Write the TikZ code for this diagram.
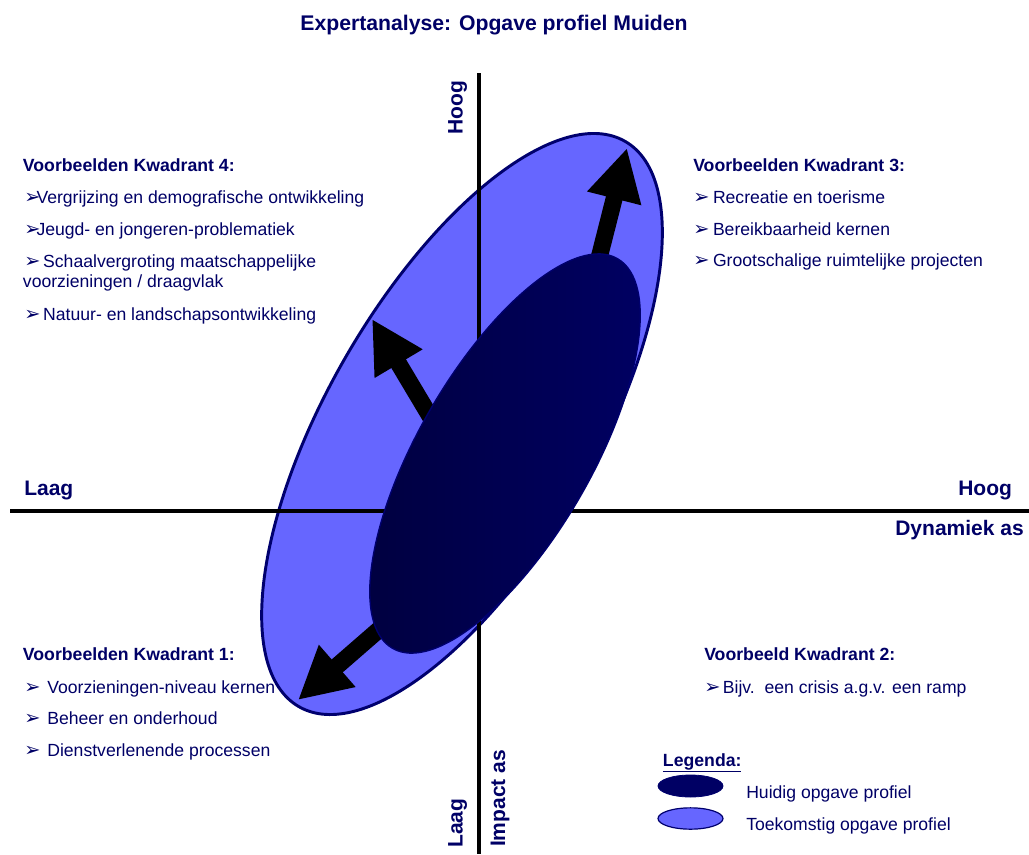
\documentclass[tikz,border=0pt]{standalone}
\usepackage{fontspec}
\setmainfont{Liberation Sans}
\newfontfamily\dejavu{DejaVu Sans}
\usetikzlibrary{shapes.geometric,arrows.meta}
\definecolor{txtblue}{RGB}{0,0,102}
\definecolor{lightfill}{RGB}{102,102,255}
\definecolor{edgeblue}{RGB}{0,0,110}
\definecolor{darkA}{RGB}{0,0,100}
\definecolor{darkB}{RGB}{0,0,62}
\newcommand{\bl}{{\dejavu\fontsize{14.5}{14.5}\selectfont ➢}}
\newcommand{\bb}[1]{\makebox[#1][l]{\bl}}
\begin{document}
\begin{tikzpicture}[x=0.75pt,y=-0.75pt,
  txt/.style={anchor=base west, inner sep=0, text=txtblue, font=\fontsize{13.2}{15}\selectfont},
  head/.style={anchor=base west, inner sep=0, text=txtblue, font=\fontsize{13.25}{15}\selectfont\bfseries},
  axlab/.style={inner sep=0, text=txtblue, font=\fontsize{15.75}{18}\selectfont\bfseries},
  axisline/.style={line width=3pt, black},
  growarrow/.style={line width=12.75pt, black, -{Triangle[length=39pt,width=39pt]}},
  profile/.style={ellipse, inner sep=0, outer sep=0, rotate=60},
]
\useasboundingbox (0,0) rectangle (1029,854);

% title
\node[anchor=base, inner sep=0, text=txtblue, font=\fontsize{15.9}{18}\selectfont\bfseries] (title) at (494,30) {Expertanalyse: Opgave profiel Muiden};

% future profile
\node[profile, draw=edgeblue, line width=2.2pt, fill=lightfill, minimum width=489.5pt, minimum height=201.3pt] (future) at (462,424) {};

% axes
\coordinate (vtop) at (479,73);
\coordinate (vbot) at (479,854);
\coordinate (hleft) at (10,511);
\coordinate (hright) at (1029,511);
\draw[axisline] (vtop) -- (vbot);
\draw[axisline] (hleft) -- (hright);

% growth arrows
\coordinate (s1) at (596,270); \coordinate (t1) at (627,148);
\coordinate (s2) at (440,433); \coordinate (t2) at (372,319);
\coordinate (s3) at (390,620); \coordinate (t3) at (298,700);
\draw[growarrow] (s1) -- (t1);
\draw[growarrow] (s2) -- (t2);
\draw[growarrow] (s3) -- (t3);

% current profile
\node[profile, draw=edgeblue, line width=1pt, left color=darkB, right color=darkA, minimum width=337.5pt, minimum height=130pt] (current) at (505,453.5) {};

% axis labels
\node[axlab, anchor=base west] (laagh) at (24,495) {Laag};
\node[axlab, anchor=base west] (hoogh) at (958,495) {Hoog};
\node[axlab, anchor=base east] (dyn) at (1024,535) {Dynamiek as};
\node[axlab, anchor=base, rotate=90] (hoogv) at (462.7,107.5) {Hoog};
\node[axlab, anchor=base, rotate=90] (laagv) at (462.7,823.3) {Laag};
\node[axlab, anchor=base, rotate=90] (impact) at (505,798.5) {Impact as};

% quadrant 4
\node[head] (k4h) at (22.7,171.7) {Voorbeelden Kwadrant 4:};
\node[txt] (k4a) at (24,203.3) {\bb{9.2pt}Vergrijzing en demografische ontwikkeling};
\node[txt] (k4b) at (24,235) {\bb{9.2pt}Jeugd- en jongeren-problematiek};
\node[txt] (k4c) at (24,267.7) {\bb{14.2pt}Schaalvergroting maatschappelijke};
\node[txt] (k4d) at (22.7,287.7) {voorzieningen / draagvlak};
\node[txt] (k4e) at (24,320) {\bb{14.2pt}Natuur- en landschapsontwikkeling};

% quadrant 3
\node[head] (k3h) at (693,171.7) {Voorbeelden Kwadrant 3:};
\node[txt] (k3a) at (693,203.3) {\bb{14.8pt}Recreatie en toerisme};
\node[txt] (k3b) at (693,235) {\bb{14.8pt}Bereikbaarheid kernen};
\node[txt] (k3c) at (693,266.7) {\bb{14.8pt}Grootschalige ruimtelijke projecten};

% quadrant 1
\node[head] (k1h) at (22.7,660.7) {Voorbeelden Kwadrant 1:};
\node[txt] (k1a) at (24,693.3) {\bb{17.3pt}Voorzieningen-niveau kernen};
\node[txt] (k1b) at (24,724.3) {\bb{17.3pt}Beheer en onderhoud};
\node[txt] (k1c) at (24,756) {\bb{17.3pt}Dienstverlenende processen};

% quadrant 2
\node[head] (k2h) at (704,660.7) {Voorbeeld Kwadrant 2:};
\node[txt] (k2a) at (704,693.3) {\bb{14pt}Bijv.\ \ een crisis a.g.v. een ramp};

% legend
\node[head] (leg) at (662.7,766) {\underline{Legenda:}};
\node[ellipse, inner sep=0, draw=edgeblue, line width=0.6pt, fill=darkA, minimum width=48.75pt, minimum height=16.5pt] (legcur) at (690.5,786) {};
\node[ellipse, inner sep=0, draw=edgeblue, line width=0.9pt, fill=lightfill, minimum width=48.75pt, minimum height=16pt] (legfut) at (690.5,818.5) {};
\node[txt] (legcurt) at (746,798.3) {Huidig opgave profiel};
\node[txt] (legfutt) at (746,830) {Toekomstig opgave profiel};
\end{tikzpicture}
\end{document}
